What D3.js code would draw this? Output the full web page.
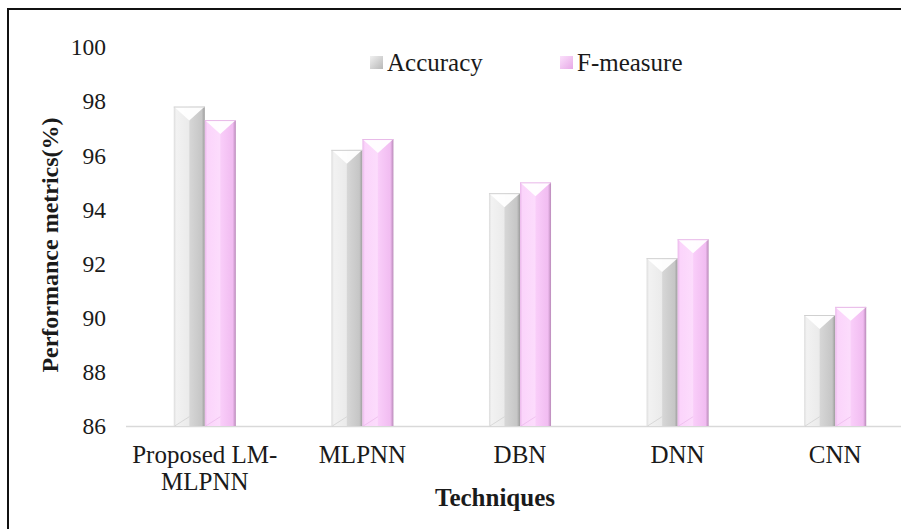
<!DOCTYPE html>
<html>
<head>
<meta charset="utf-8">
<script src="https://cdn.jsdelivr.net/npm/d3@7/dist/d3.min.js"></script>
<style>
html,body{margin:0;padding:0;background:#fff;}
svg{display:block;}
</style>
</head>
<body>
<svg id="chart" width="901" height="529"></svg>
<script>
const categories = ["Proposed LM-MLPNN", "MLPNN", "DBN", "DNN", "CNN"];
const categoryLines = [["Proposed LM-", "MLPNN"], ["MLPNN"], ["DBN"], ["DNN"], ["CNN"]];
const seriesNames = ["Accuracy", "F-measure"];
const accuracy = [97.8, 96.2, 94.6, 92.2, 90.1];
const fmeasure = [97.3, 96.6, 95.0, 92.9, 90.4];
const yTicks = [86, 88, 90, 92, 94, 96, 98, 100];

const FONT = "Liberation Serif";
const svg = d3.select("#chart").attr("font-family", FONT);
const W = 901, H = 529;
const plot = {left: 126, right: 914, top: 47, bottom: 426};

const x0 = d3.scaleBand().domain(categories).range([plot.left, plot.right]).paddingInner(0).paddingOuter(0);
const x1 = d3.scaleBand().domain(seriesNames).range([0, x0.bandwidth()]).paddingInner(0).paddingOuter(1.54);
const y = d3.scaleLinear().domain([86, 100]).range([plot.bottom, plot.top]);

// gradients
const defs = svg.append("defs");
const grads = {
  "Accuracy": [[0, "#dcdcdc"], [0.08, "#f2f2f2"], [0.48, "#ebebeb"], [0.52, "#d6d6d6"], [0.9, "#c6c6c6"], [1, "#9c9c9c"]],
  "F-measure": [[0, "#eab8ea"], [0.08, "#fbd4fb"], [0.48, "#fcdcfc"], [0.52, "#f9cdf9"], [0.9, "#f1bcf1"], [1, "#b98ab9"]]
};
const gid = {"Accuracy": "gAcc", "F-measure": "gF"};
seriesNames.forEach(s => {
  const g = defs.append("linearGradient").attr("id", gid[s]).attr("x1", "0").attr("x2", "1").attr("y1", "0").attr("y2", "0");
  grads[s].forEach(([o, c]) => g.append("stop").attr("offset", o).attr("stop-color", c));
});
const legGrad = {"Accuracy": ["#f0f0f0", "#b8b8b8"], "F-measure": ["#fbe0fb", "#e7a9e7"]};
seriesNames.forEach(s => {
  const g = defs.append("linearGradient").attr("id", gid[s] + "L").attr("x1", "0").attr("x2", "1").attr("y1", "0").attr("y2", "1");
  g.append("stop").attr("offset", 0).attr("stop-color", legGrad[s][0]);
  g.append("stop").attr("offset", 1).attr("stop-color", legGrad[s][1]);
});

// frame (top and left border)
svg.append("line").attr("x1", 7).attr("x2", W).attr("y1", 9).attr("y2", 9).attr("stroke", "#111").attr("stroke-width", 2);
svg.append("line").attr("x1", 8).attr("x2", 8).attr("y1", 8).attr("y2", H).attr("stroke", "#111").attr("stroke-width", 2);

// baseline
svg.append("line").attr("x1", plot.left).attr("x2", W).attr("y1", y(86) + 0.5).attr("y2", y(86) + 0.5)
  .attr("stroke", "#d9d9d9").attr("stroke-width", 1.5);

// y tick labels
svg.append("g").selectAll("text").data(yTicks).join("text")
  .attr("x", 106).attr("y", d => y(d)).attr("dy", "0.35em")
  .attr("text-anchor", "end").attr("font-size", 23.5).attr("fill", "#1a1a1a").text(d => d);

// bars
const rows = categories.map((c, i) => ({cat: c, values: [{s: "Accuracy", v: accuracy[i]}, {s: "F-measure", v: fmeasure[i]}]}));
const groups = svg.append("g").selectAll("g").data(rows).join("g")
  .attr("transform", d => `translate(${x0(d.cat)},0)`);
const bars = groups.selectAll("g").data(d => d.values).join("g");
bars.append("rect")
  .attr("x", d => x1(d.s)).attr("width", x1.bandwidth())
  .attr("y", d => y(d.v)).attr("height", d => y(86) - y(d.v))
  .attr("fill", d => `url(#${gid[d.s]})`);
// top bevel (white V)
bars.append("polygon").attr("points", d => {
  const xa = x1(d.s), w = x1.bandwidth(), t = y(d.v);
  return `${xa},${t} ${xa + w},${t} ${xa + w / 2},${t + w * 0.45}`;
}).attr("fill", "#ffffff").attr("opacity", 0.95);
// top edge
bars.append("line")
  .attr("x1", d => x1(d.s)).attr("x2", d => x1(d.s) + x1.bandwidth())
  .attr("y1", d => y(d.v) + 0.5).attr("y2", d => y(d.v) + 0.5)
  .attr("stroke", d => d.s === "Accuracy" ? "#d0d0d0" : "#e8b8e8").attr("stroke-width", 1);
// bottom bevel hint
bars.append("polyline").attr("points", d => {
  const xa = x1(d.s), w = x1.bandwidth(), b = y(86);
  return `${xa + 1},${b} ${xa + w / 2},${b - w * 0.3}`;
}).attr("fill", "none").attr("stroke", d => d.s === "Accuracy" ? "#c8c8c8" : "#e6b2e6").attr("stroke-width", 1).attr("opacity", 0.6);

// x labels
const xl = svg.append("g").selectAll("text").data(categories).join("text")
  .attr("x", d => x0(d) + x0.bandwidth() / 2).attr("y", 463)
  .attr("text-anchor", "middle").attr("font-size", 25).attr("fill", "#1a1a1a");
xl.selectAll("tspan").data((d, i) => categoryLines[i]).join("tspan")
  .attr("x", function () { return d3.select(this.parentNode).attr("x"); })
  .attr("dy", (d, i) => i === 0 ? 0 : 27).text(d => d);

// axis titles
svg.append("text").attr("x", 495).attr("y", 506).attr("text-anchor", "middle").attr("fill", "#1a1a1a")
  .attr("font-size", 25).attr("font-weight", "bold").text("Techniques");
svg.append("text").attr("transform", "translate(50,245) rotate(-90)").attr("text-anchor", "middle").attr("fill", "#1a1a1a")
  .attr("dy", "0.35em").attr("font-size", 24).attr("font-weight", "bold").text("Performance metrics(%)");

// legend
const legX = [370, 560];
const leg = svg.append("g").selectAll("g").data(seriesNames).join("g")
  .attr("transform", (d, i) => `translate(${legX[i]},56)`);
leg.append("rect").attr("width", 13).attr("height", 13).attr("fill", d => `url(#${gid[d]}L)`);
leg.append("text").attr("x", 17).attr("y", 6.5).attr("dy", "0.35em").attr("font-size", 25).attr("fill", "#1a1a1a").text(d => d);
</script>
</body>
</html>
